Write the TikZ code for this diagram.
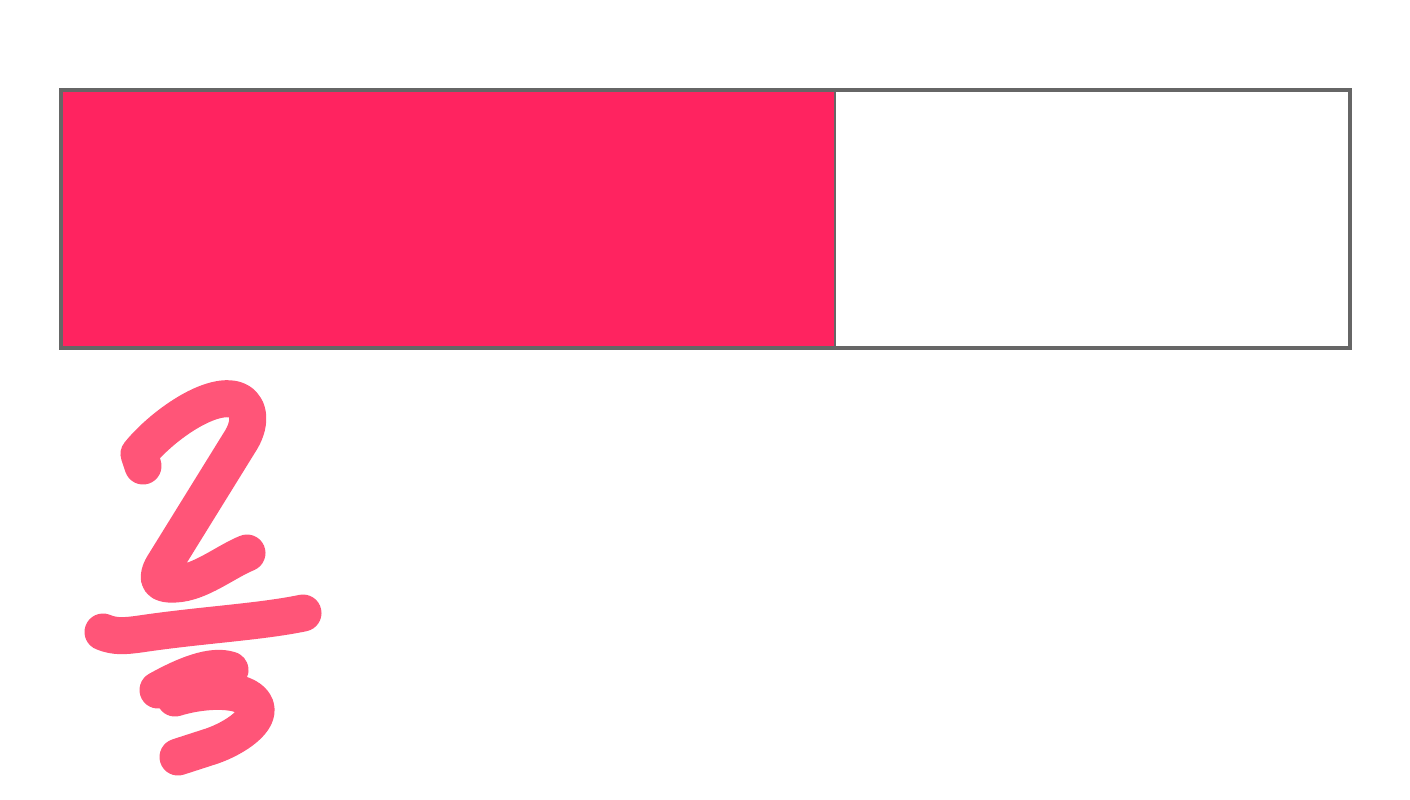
\documentclass[tikz,border=0pt]{standalone}
\usepackage{tikz}
\usepackage{xcolor}
\definecolor{barpink}{HTML}{FF2360}
\definecolor{inkpink}{HTML}{FF5578}
\definecolor{edgegray}{HTML}{666666}

\begin{document}
\begin{tikzpicture}[x=0.01cm, y=-0.01cm,
  ink/.style={draw=inkpink, line width=0.37cm, line cap=round, line join=round}]
\useasboundingbox (0,0) rectangle (1410,799);
% Bar: two thirds shaded
\fill[barpink] (61,90) rectangle (835,348);
\draw[edgegray, line width=0.8pt] (835,90) -- (835,348);
\draw[edgegray, line width=0.9pt] (61,90) rectangle (1350,348);
% Handwritten fraction
\draw[ink] (143,466) -- (139,454) .. controls (160,428) and (205,395) .. (232,399)
  .. controls (250,402) and (252,422) .. (241,440) -- (163,566)
  .. controls (155,580) and (160,585) .. (175,584)
  .. controls (200,583) and (225,562) .. (247,553);
\draw[ink] (103,632) .. controls (115,637) and (125,636) .. (140,634)
  .. controls (200,625) and (260,622) .. (303,613);
\draw[ink] (158,690) .. controls (185,675) and (212,664) .. (230,670) -- (175,698)
  .. controls (200,690) and (245,686) .. (255,705)
  .. controls (262,720) and (235,738) .. (212,746) -- (178,757);
\end{tikzpicture}
\end{document}
